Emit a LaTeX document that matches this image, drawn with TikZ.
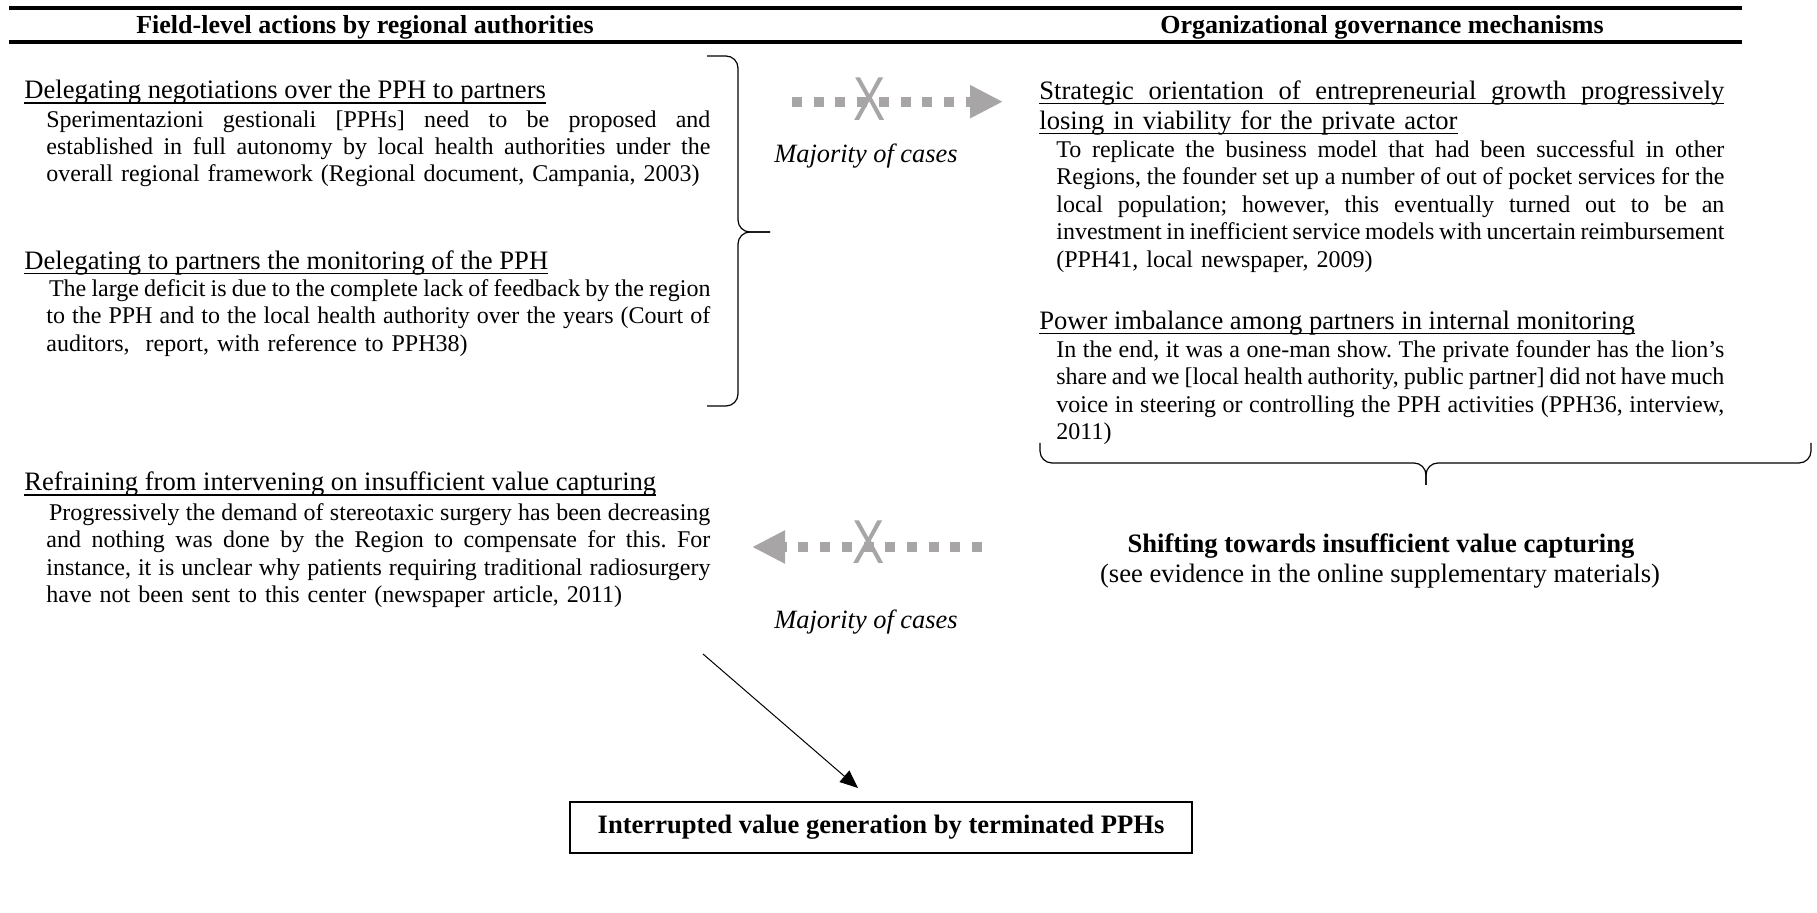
\documentclass[tikz,border=0pt]{standalone}
\usepackage{graphicx}
\usepackage{fontspec}
\setmainfont{Liberation Serif}
\newfontfamily\xsans{Liberation Sans}
\usetikzlibrary{arrows.meta}
\definecolor{arrowgray}{RGB}{167,165,165}
\frenchspacing
% justified line of a given width
\newcommand{\jbox}[2]{\hbox to #1{\spaceskip=.25em plus .4em minus .12em\relax #2}}
\newcommand{\jlw}[2]{\jbox{#1}{#2}\par}
\newcommand{\jlL}[1]{\jlw{332pt}{#1}}
\newcommand{\jlR}[1]{\jlw{334pt}{#1}}
\newcommand{\ult}[1]{\leavevmode\setbox0\hbox{#1}\rlap{\rule[-2.3pt]{\wd0}{0.65pt}}\box0}
\begin{document}
\begin{tikzpicture}[x=0.5pt,y=-0.5pt,
  hdr/.style={inner sep=0pt, anchor=base, font=\bfseries\fontsize{13}{15}\selectfont},
  ttl/.style={inner sep=0pt, anchor=base west, font=\fontsize{13.3}{15}\selectfont},
  bodytxt/.style={inner sep=0pt, anchor=base west, text width=#1, font=\fontsize{12}{13.7}\selectfont},
  garrow/.style={draw=arrowgray, line width=5pt, line cap=butt, dash pattern=on 5pt off 5.85pt, -{Triangle[length=16.5pt,width=15.5pt]}},
  xmark/.style={inner sep=0pt, text=arrowgray, font=\xsans\fontsize{31}{31}\selectfont},
  maj/.style={inner sep=0pt, anchor=base, font=\itshape\fontsize{13.2}{15}\selectfont},
  bracestyle/.style={line width=0.6pt, rounded corners=6pt},
  box/.style={draw, line width=1.1pt, minimum width=311pt, minimum height=25.5pt, inner sep=0pt, font=\bfseries\fontsize{13.3}{15}\selectfont}
]
\useasboundingbox (0,0) rectangle (1817,913);

% header rules and titles
\draw[line width=1.6pt] (9,8) -- (1742,8);
\draw[line width=1.6pt] (9,42) -- (1742,42);
\node[hdr] (h1) at (365,33.5) {Field-level actions by regional authorities};
\node[hdr] (h2) at (1382,33.5) {Organizational governance mechanisms};

% left column
\node[ttl] (t1) at (24,99) {\ult{Delegating negotiations over the PPH to partners}};
\node[bodytxt=332pt] (b1) at (46,127.2) {\jlL{Sperimentazioni gestionali [PPHs] need to be proposed and}\jlL{established in full autonomy by local health authorities under the}overall regional framework (Regional document, Campania, 2003)};
\node[ttl] (t2) at (24,269.5) {\ult{Delegating to partners the monitoring of the PPH}};
\node[bodytxt=332pt] (b2) at (46,296.5) {\jlL{\kern1.3pt The large deficit is due to the complete lack of feedback by the region}\jlL{to the PPH and to the local health authority over the years (Court of}auditors,\ \ report, with reference to PPH38)};
\node[ttl] (t3) at (24,491) {\ult{Refraining from intervening on insufficient value capturing}};
\node[bodytxt=332pt] (b3) at (46,520.5) {\jlL{\kern1.3pt Progressively the demand of stereotaxic surgery has been decreasing}\jlL{and nothing was done by the Region to compensate for this. For}\jlL{instance, it is unclear why patients requiring traditional radiosurgery}have not been sent to this center (newspaper article, 2011)};

% left brace
\draw[bracestyle] (707,56) -| (738,232) -- (770,232);
\draw[bracestyle] (707,406) -| (738,232) -- (770,232);

% right column
\node[ttl, text width=342.5pt, font=\fontsize{13.3}{15}\selectfont] (t4) at (1039,99.3) {\ult{\jbox{342.5pt}{Strategic orientation of entrepreneurial growth progressively}}\par\ult{losing in viability for the private actor}};
\node[bodytxt=334pt] (b4) at (1056,157.5) {\jlR{To replicate the business model that had been successful in other}\jlR{Regions, the founder set up a number of out of pocket services for the}\jlR{local population; however, this eventually turned out to be an}\jlR{investment in inefficient service models with uncertain reimbursement}(PPH41, local newspaper, 2009)};
\node[ttl] (t5) at (1039,329.3) {\ult{Power imbalance among partners in internal monitoring}};
\node[bodytxt=334pt] (b5) at (1056,357.5) {\jlR{In the end, it was a one-man show. The private founder has the lion’s}\jlR{share and we [local health authority, public partner] did not have much}\jlR{voice in steering or controlling the PPH activities (PPH36, interview,}2011)};

% right brace
\draw[bracestyle] (1040,443) |- (1426,463) -- (1426,485);
\draw[bracestyle] (1811,443) |- (1426,463) -- (1426,485);

\node[inner sep=0pt, anchor=base, font=\bfseries\fontsize{13.3}{15}\selectfont] (s1) at (1381,552.5) {Shifting towards insufficient value capturing};
\node[inner sep=0pt, anchor=base, font=\fontsize{13.3}{15}\selectfont] (s2) at (1380,582.5) {(see evidence in the online supplementary materials)};

% grey crossed arrows
\coordinate (ua1) at (792,101.7);
\coordinate (ua2) at (1003,101.7);
\draw[garrow] (ua1) -- (ua2);
\node[xmark] (x1) at (870,99.5) {\scalebox{0.78}[1]{X}};
\node[maj] (m1) at (866,163) {Majority of cases};

\coordinate (la1) at (982,547);
\coordinate (la2) at (752,547);
\draw[garrow] (la1) -- (la2);
\node[xmark] (x2) at (869,542) {\scalebox{0.78}[1]{X}};
\node[maj] (m2) at (866,629) {Majority of cases};

% final box and arrow
\node[box] (fin) at (881,827.5) {Interrupted value generation by terminated PPHs};
\coordinate (d1) at (703,654);
\coordinate (d2) at (858,788);
\draw[line width=0.5pt, -{Triangle[length=9pt,width=7.5pt]}] (d1) -- (d2);
\end{tikzpicture}
\end{document}
